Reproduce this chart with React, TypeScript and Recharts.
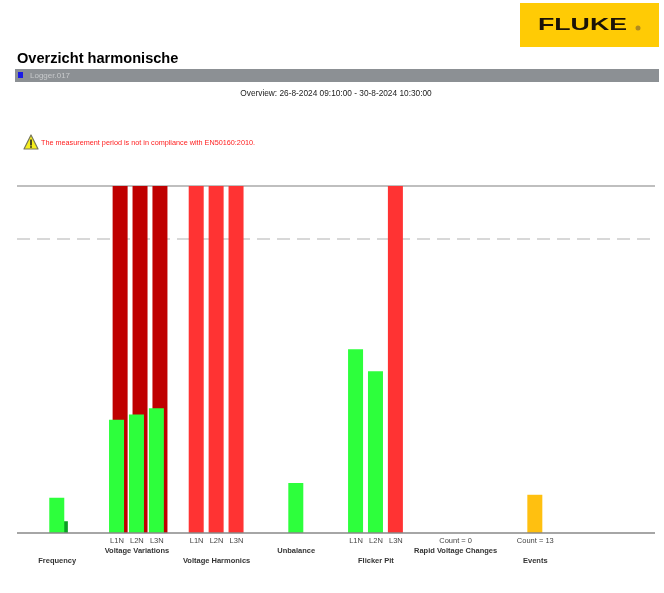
import { ComposedChart, Bar, Cell, XAxis, YAxis, ReferenceLine } from "recharts";

// position of each column on the overview, in axis slots
const slots = [0, 3, 4, 5, 7, 8, 9, 12, 15, 16, 17, 24];
const levels = [12, 38.5, 40.3, 42.4, 118, 118, 118, 17, 62.5, 55, 118, 13];
const peaks = [4, 118, 118, 118, null, null, null, null, null, null, null, null];
const status = ["ok", "ok", "ok", "ok", "bad", "bad", "bad", "ok", "ok", "ok", "bad", "warn"];
const peakStatus = ["ok", "bad", "bad", "bad", null, null, null, null, null, null, null, null];

const tickSlots = [0, 3, 4, 5, 7, 8, 9, 12, 15, 16, 17, 20, 24];
const tickLabels = ["", "L1N", "L2N", "L3N", "L1N", "L2N", "L3N", "", "L1N", "L2N", "L3N", "Count = 0", "Count = 13"];

const groupSlots = [0, 4, 8, 12, 16, 20, 24];
const groupNames = [
  "Frequency",
  "Voltage Variations",
  "Voltage Harmonics",
  "Unbalance",
  "Flicker Pit",
  "Rapid Voltage Changes",
  "Events",
];

const limit = 100;
const maxValue = 118;

const levelColors: Record<string, string> = { ok: "#2dff3c", bad: "#ff3333", warn: "#ffc010" };
const peakColors: Record<string, string> = { ok: "#0c9e24", bad: "#bf0000" };

const data = slots.map((slot, i) => ({
  slot,
  level: levels[i],
  peak: peaks[i],
  status: status[i],
  peakStatus: peakStatus[i],
}));

const FONT = "'Liberation Sans', Arial, sans-serif";

const OverviewTick = ({ x, y, payload }: any) => {
  const label = tickLabels[tickSlots.indexOf(payload.value)];
  const groupIndex = groupSlots.indexOf(payload.value);
  return (
    <g fontFamily={FONT} textAnchor="middle">
      {label && (
        <text x={x} y={y} dy={2} fontSize={7.5} fill="#444">
          {label}
        </text>
      )}
      {groupIndex >= 0 && (
        <text
          x={x}
          y={y}
          dy={groupIndex % 2 === 0 ? 22 : 12}
          fontSize={7.5}
          fontWeight="bold"
          fill="#333"
        >
          {groupNames[groupIndex]}
        </text>
      )}
    </g>
  );
};

const Logo = () => (
  <svg width={139} height={44} style={{ position: "absolute", left: 520, top: 3 }}>
    <rect width={139} height={44} fill="#ffcb05" />
    <text
      x={18}
      y={27}
      fontFamily={FONT}
      fontWeight="bold"
      fontSize={17}
      textLength={89}
      lengthAdjust="spacingAndGlyphs"
      fill="#1a1208"
    >
      FLUKE
    </text>
    <circle cx={118} cy={25} r={2.5} fill="#b08a20" />
  </svg>
);

const WarningIcon = () => (
  <svg width={16} height={17} style={{ position: "absolute", left: 23, top: 134 }}>
    <path d="M8 1 L15 15 L1 15 Z" fill="#f6ee1e" stroke="#77775a" strokeWidth={1.2} strokeLinejoin="round" />
    <rect x={7.2} y={5.5} width={1.6} height={6} fill="#222" />
    <rect x={7.2} y={12.2} width={1.6} height={1.6} fill="#222" />
  </svg>
);

const App = () => {
  return (
    <div
      style={{
        position: "absolute",
        left: 0,
        top: 0,
        width: 664,
        height: 593,
        overflow: "hidden",
        background: "#fff",
        fontFamily: FONT,
        filter: "blur(0.4px)",
      }}
    >
      <Logo />
      <div style={{ position: "absolute", left: 17, top: 50, fontSize: 14.6, fontWeight: "bold", color: "#000" }}>
        Overzicht harmonische
      </div>
      <div style={{ position: "absolute", left: 15, top: 69, width: 644, height: 13, background: "#8c9094" }} />
      <div style={{ position: "absolute", left: 18, top: 72, width: 5, height: 6, background: "#1a1ae6" }} />
      <div style={{ position: "absolute", left: 30, top: 71, fontSize: 8, color: "#c8cacc" }}>Logger.017</div>
      <div style={{ position: "absolute", left: 0, width: 672, top: 88, textAlign: "center", fontSize: 8.3, color: "#222" }}>
        Overview: 26-8-2024 09:10:00 - 30-8-2024 10:30:00
      </div>
      <WarningIcon />
      <div style={{ position: "absolute", left: 41, top: 138, fontSize: 7.25, color: "#ff2020" }}>
        The measurement period is not in compliance with EN50160:2010.
      </div>
      <div style={{ position: "absolute", left: 0, top: 0 }}>
        <ComposedChart
          width={664}
          height={593}
          data={data}
          margin={{ top: 186, right: 9, bottom: 0, left: 17 }}
        >
          <YAxis hide domain={[0, maxValue]} allowDataOverflow />
          <XAxis
            xAxisId="level"
            dataKey="slot"
            type="number"
            domain={[-2.02, 30.01]}
            ticks={tickSlots}
            interval={0}
            height={60}
            tickLine={false}
            tick={<OverviewTick />}
            axisLine={{ stroke: "#888", strokeWidth: 1.5 }}
            allowDataOverflow
          />
          <XAxis
            xAxisId="peak"
            dataKey="slot"
            type="number"
            domain={[-2.2, 29.83]}
            hide
            allowDataOverflow
          />
          <ReferenceLine xAxisId="level" y={maxValue} stroke="#aaa" strokeWidth={1.5} zIndex={0} />
          <ReferenceLine xAxisId="level" y={limit} stroke="#ccc" strokeWidth={1.5} strokeDasharray="13 7" zIndex={0} />
          <Bar xAxisId="peak" dataKey="peak" barSize={15} isAnimationActive={false}>
            {data.map((d, i) => (
              <Cell key={i} fill={d.peakStatus ? peakColors[d.peakStatus] : "none"} />
            ))}
          </Bar>
          <Bar xAxisId="level" dataKey="level" barSize={15} isAnimationActive={false}>
            {data.map((d, i) => (
              <Cell key={i} fill={levelColors[d.status]} />
            ))}
          </Bar>
        </ComposedChart>
      </div>
    </div>
  );
};

export default App;
